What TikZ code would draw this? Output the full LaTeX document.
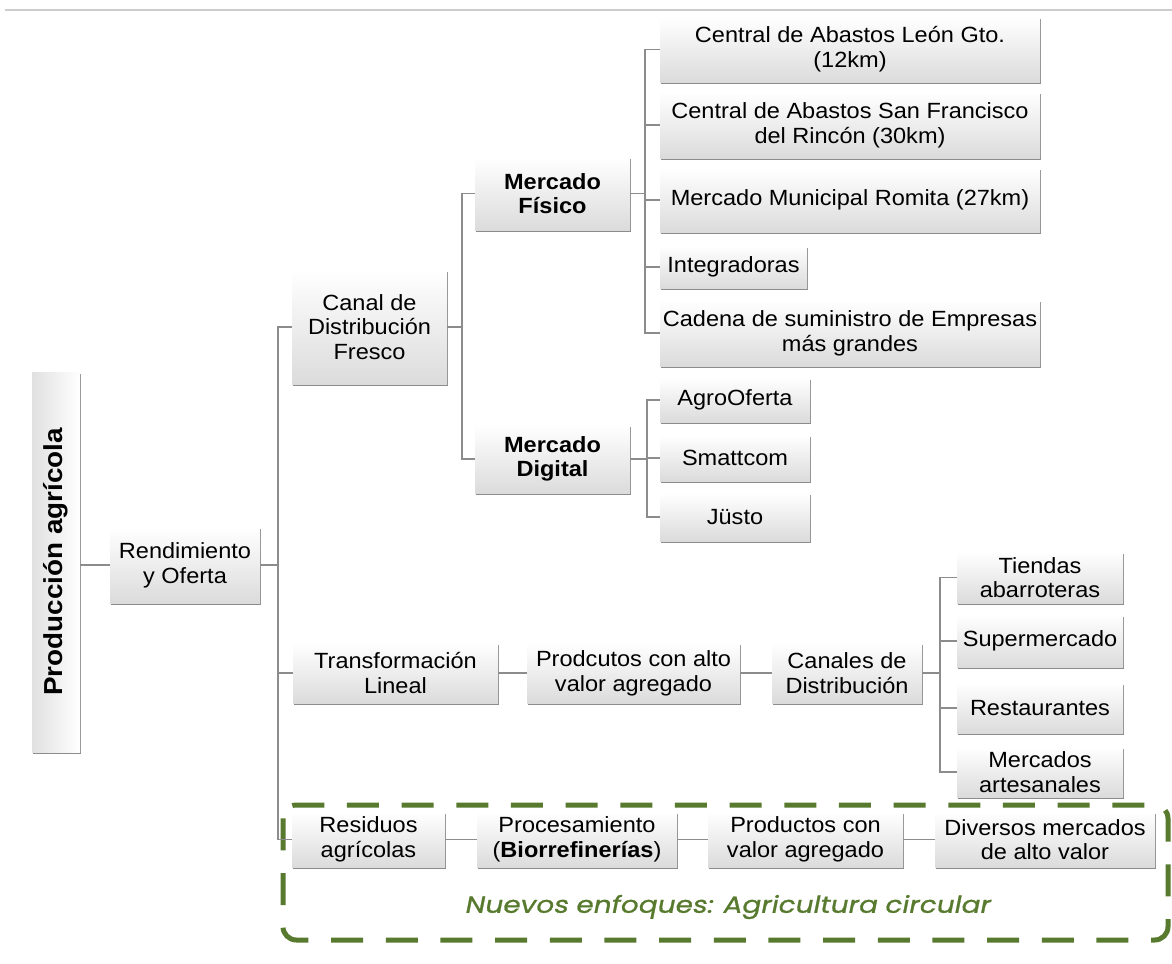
\documentclass[tikz,border=0pt]{standalone}
\usepackage{fontspec}
\setmainfont[FakeStretch=1.07]{Liberation Sans}
\newfontfamily\circfont[FakeSlant=0.2,FakeStretch=1.2,FakeBold=1]{Poppins}
\usetikzlibrary{shadows}
\definecolor{leaf}{RGB}{88,122,46}
\definecolor{linkgray}{RGB}{140,140,140}

% box from corner (x1,y1) to (x2,y2), in pixel-like units
\newcommand\boxnode[7][]{%
  \node[box,#1,minimum width={(#5-#3)*0.75pt},minimum height={(#6-#4)*0.75pt}]
    (#2) at ({(#3+#5)/2},{(#4+#6)/2}) {#7};}

\begin{document}
\begin{tikzpicture}[x=0.75pt,y=-0.75pt,
  font=\fontsize{16.5}{18.5}\selectfont,
  box/.style={inner sep=1pt, align=center, top color=white, bottom color=black!14,
    drop shadow={shadow xshift=0.5pt, shadow yshift=-1.8pt, fill=black, opacity=0.45}},
  link/.style={draw=linkgray, line width=1.1pt}]
\useasboundingbox (0,0) rectangle (1172,964);

% rule at the top
\draw[gray!40, line width=1pt] (5,10) -- (1172,10);

% circular agriculture frame
\draw[leaf, line width=3.75pt, dash pattern=on 24pt off 17pt, rounded corners=10pt]
  (283,805) rectangle (1168,940);
\node[text=leaf, font=\circfont\fontsize{17.5}{19}\selectfont] (circ) at (727,907)
  {Nuevos enfoques: Agricultura circular};

% root: upright box with its title turned on end
\node[box, left color=black!12, right color=white, minimum width=36pt, minimum height=285pt]
  (prod) at (56,562) {};
\node[rotate=90, font=\fontsize{19.5}{21}\selectfont\bfseries] (prodtxt) at (prod.center)
  {Producción agrícola};

\boxnode{rend}{110}{527}{260}{603}{Rendimiento\\y Oferta}

% fresh channel
\boxnode{canal}{292}{270}{447}{384}{Canal de\\Distribución\\Fresco}
\boxnode{fis}{475}{157}{630}{230}{\bfseries Mercado\\\bfseries Físico}
\boxnode{dig}{475}{425}{630}{493}{\bfseries Mercado\\\bfseries Digital}

\boxnode{cl}{660}{17}{1040}{82}{Central de Abastos León Gto.\\(12km)}
\boxnode{csf}{660}{92}{1040}{158}{Central de Abastos San Francisco\\del Rincón (30km)}
\boxnode{mm}{660}{168}{1040}{232}{Mercado Municipal Romita (27km)}
\boxnode{integ}{660}{246}{807}{288}{Integradoras}
\boxnode{cad}{660}{300}{1040}{366}{Cadena de suministro de Empresas\\más grandes}

\boxnode{agro}{660}{378}{810}{422}{AgroOferta}
\boxnode{smatt}{660}{435}{810}{481}{Smattcom}
\boxnode{justo}{660}{493}{810}{541}{Jüsto}

% linear transformation
\boxnode{trans}{293}{643}{498}{703}{Transformación\\Lineal}
\boxnode{prodalto}{527}{643}{740}{703}{Prodcutos con alto\\valor agregado}
\boxnode{canales}{772}{643}{922}{703}{Canales de\\Distribución}
\boxnode{tiendas}{957}{552}{1123}{603}{Tiendas\\abarroteras}
\boxnode{super}{957}{615}{1123}{667}{Supermercado}
\boxnode{rest}{957}{683}{1123}{733}{Restaurantes}
\boxnode{merc}{957}{747}{1123}{797}{Mercados\\artesanales}

% circular row
\boxnode{res}{292}{812}{445}{867}{Residuos\\agrícolas}
\boxnode{proc}{477}{812}{677}{867}{Procesamiento\\(\textbf{Biorrefinerías})}
\boxnode{prodval}{708}{812}{903}{867}{Productos con\\valor agregado}
\boxnode{div}{935}{812}{1155}{867}{Diversos mercados\\de alto valor}

% trunk positions
\coordinate (t1) at (278,0);
\coordinate (t2) at (462,0);
\coordinate (t3) at (645,0);
\coordinate (t4) at (647,0);
\coordinate (t5) at (940,0);

% connectors
\draw[link] (prod.east |- rend.west) -- (rend.west);
\draw[link] (rend.east) -- (rend.east -| t1);
\draw[link] (canal.west) -- (canal.west -| t1) -- (res.west -| t1) -- (res.west);
\draw[link] (trans.west) -- (trans.west -| t1);

\draw[link] (canal.east) -- (canal.east -| t2);
\draw[link] (fis.west) -- (fis.west -| t2) -- (dig.west -| t2) -- (dig.west);

\draw[link] (fis.east) -- (fis.east -| t3);
\draw[link] (cl.west) -- (cl.west -| t3) -- (cad.west -| t3) -- (cad.west);
\foreach \n in {csf,mm,integ} \draw[link] (\n.west) -- (\n.west -| t3);

\draw[link] (dig.east) -- (dig.east -| t4);
\draw[link] (agro.west) -- (agro.west -| t4) -- (justo.west -| t4) -- (justo.west);
\draw[link] (smatt.west) -- (smatt.west -| t4);

\draw[link] (trans.east) -- (trans.east -| prodalto.west);
\draw[link] (prodalto.east) -- (prodalto.east -| canales.west);
\draw[link] (canales.east) -- (canales.east -| t5);
\draw[link] (tiendas.west) -- (tiendas.west -| t5) -- (merc.west -| t5) -- (merc.west);
\foreach \n in {super,rest} \draw[link] (\n.west) -- (\n.west -| t5);

\draw[link] (res.east) -- (res.east -| proc.west);
\draw[link] (proc.east) -- (proc.east -| prodval.west);
\draw[link] (prodval.east) -- (prodval.east -| div.west);
\end{tikzpicture}
\end{document}
